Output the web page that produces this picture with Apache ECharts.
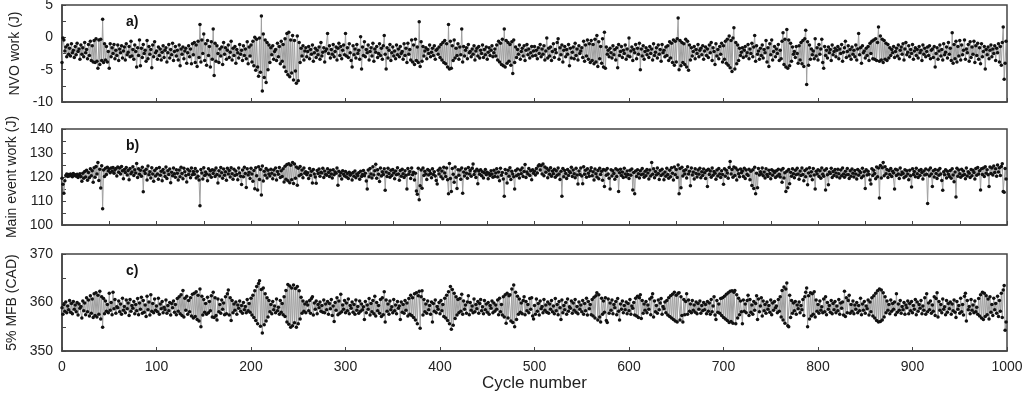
<!DOCTYPE html>
<html><head><meta charset="utf-8">
<script src="https://cdn.jsdelivr.net/npm/echarts@6/dist/echarts.min.js"></script>
<style>html,body{margin:0;padding:0;background:#fff}#c{width:1024px;height:399px}</style>
</head><body><div id="c"></div><script>
// Panel a: NVO work (J), cycles 0..999
const nvoWork = [
-3.9,-0.1,-0.4,-2.1,-1.5,-3.0,-1.2,-2.6,-1.7,-2.9,-1.0,-2.4,-2.0,-3.1,-1.4,-2.7,-0.9,-2.2,-1.8,-3.4,
-1.2,-2.6,-1.6,-3.0,-0.8,-2.4,-1.9,-3.3,-1.1,-2.8,-0.6,-3.6,-1.3,-3.8,-0.5,-3.9,-0.2,-3.7,-4.8,-0.4,
-4.2,-0.3,-3.6,2.8,-3.9,-1.0,-3.5,-1.4,-3.8,-2.2,-4.8,-1.0,-3.0,-1.6,-2.5,-1.1,-3.3,-2.0,-2.8,-1.2,
-3.6,-1.8,-2.4,-1.3,-3.2,-2.1,-1.5,-3.5,-1.0,-2.7,-2.3,-1.4,-3.0,-0.6,-2.9,-1.9,-3.4,-1.2,-2.2,-4.6,
-1.6,-2.8,-0.4,-4.4,-1.7,-3.1,-1.1,-2.5,-2.0,-3.7,-0.5,-3.3,-1.4,-2.6,-1.9,-4.7,-1.2,-3.0,-0.7,-2.4,
-2.1,-3.4,-1.5,-2.8,-1.8,-3.5,-2.3,-1.3,-3.1,-2.0,-1.6,-3.8,-2.4,-1.1,-3.2,-1.9,-2.7,-0.9,-3.6,-2.2,
-1.4,-2.9,-2.0,-3.5,-1.2,-4.4,-1.8,-2.6,-1.5,-3.3,-2.1,-1.7,-4.0,-2.4,-1.3,-3.0,-1.8,-4.1,-1.0,-2.7,
-0.8,-3.9,-1.2,-4.5,-0.6,-3.1,2.0,-3.8,-0.4,-2.5,0.5,-3.6,-1.0,-4.3,-0.5,-2.8,-1.4,-4.6,-0.7,-3.4,
1.3,-5.9,-0.9,-3.7,-1.3,-2.5,-3.9,-1.8,-2.9,-1.5,-4.2,-0.8,-2.6,-1.6,-3.4,-2.0,-1.2,-3.1,-2.3,-0.6,
-3.5,-1.7,-2.8,-1.4,-4.0,-1.9,-2.4,-3.2,-1.1,-2.6,-2.0,-3.6,-1.3,-2.8,-1.8,-3.3,-0.7,-4.1,-1.5,-2.9,
-1.2,-3.8,-0.6,-4.4,0.0,-5.1,-0.3,-4.6,-6.0,-0.1,-5.4,3.3,-8.3,0.5,-6.2,-0.4,-7.0,-0.8,-5.0,-1.2,
-3.9,-1.6,-2.7,-1.3,-3.4,-2.2,-1.9,-3.6,-0.9,-3.0,-1.4,-4.1,-0.6,-3.7,-1.1,-4.6,-0.2,-5.3,0.6,-5.8,
0.8,-6.1,-0.4,-5.5,0.3,-6.6,-0.5,-5.2,-7.1,0.2,-6.7,-0.8,-3.9,-1.7,-2.9,-1.3,-3.5,-2.1,-1.6,-3.0,
-2.2,-1.4,-3.3,-1.9,-2.6,-1.2,-3.7,-2.4,-1.7,-3.1,-2.0,-2.7,-1.5,-3.4,-0.8,-2.9,-2.3,-1.6,-3.8,-2.1,
-1.8,0.6,-2.5,-1.3,-3.2,-1.9,-2.6,-1.1,-3.0,-2.2,-1.5,-3.5,-1.7,-0.9,-2.8,-1.4,-3.3,-2.0,-1.2,-2.7,
0.6,-2.9,-1.6,-3.1,-1.0,-2.4,-3.6,-4.6,-1.3,-2.7,-1.8,-3.2,-1.1,-2.5,-2.0,-3.4,0.1,-4.9,-1.5,-2.8,
-0.7,-3.0,-1.9,-2.4,-1.2,-3.5,-2.2,-1.6,-2.9,-0.9,-3.7,-1.8,-2.3,-1.4,-3.1,-2.5,-1.0,-2.8,-1.7,-3.4,
-1.3,0.3,-2.6,-4.9,-1.6,-3.2,-2.0,-1.1,-3.6,-2.4,-1.5,-2.9,-2.1,-3.3,-1.2,-2.7,-1.8,-3.0,-1.4,-2.5,
-2.2,-3.4,-1.0,-2.8,-1.7,-3.9,-0.9,-2.6,-1.9,-3.5,-0.4,-3.8,-1.2,-4.2,-0.3,-3.6,-1.5,-3.9,2.4,-4.5,
-0.7,-3.7,-1.4,-2.9,-2.1,-1.6,-3.3,-1.9,-2.5,-1.2,-3.0,-2.3,-1.7,-2.8,-1.3,-3.4,-2.0,-1.8,-2.6,-1.5,
-3.1,-1.1,-3.5,-0.8,-3.9,-0.5,-4.1,-1.0,-4.6,2.0,-4.9,-0.6,-4.8,-1.3,-3.6,-0.4,-3.2,-1.7,-2.8,-1.0,
-3.4,-1.5,-2.7,1.3,-3.8,-1.4,-2.9,-2.0,-1.6,-3.3,-1.1,-2.4,-2.2,-3.0,-1.8,-2.6,-1.3,-3.5,-2.1,-1.7,
-2.9,-1.4,-3.2,-2.0,-2.5,-1.2,-3.1,-1.9,-2.7,-1.5,-3.4,-2.3,-1.6,-2.8,-2.0,-1.3,-3.0,-2.4,-1.8,-2.9,
-1.2,-3.5,-0.6,-3.8,-0.9,-4.2,-0.3,-4.4,1.3,-4.6,-0.5,-4.0,-0.8,-3.7,-1.1,-4.3,-0.7,-5.6,-0.4,-3.9,
-1.5,-3.1,-1.9,-2.6,-1.2,-3.4,-2.2,-1.7,-2.9,-1.3,-3.6,-2.0,-1.1,-2.7,-1.8,-3.2,-2.4,-1.4,-2.9,-2.1,
-1.4,-2.8,-2.0,-3.3,-1.6,-2.5,-1.1,-3.0,-1.8,-2.6,-1.3,-3.5,-2.1,-0.1,-3.2,-1.7,-2.9,-1.5,-3.6,-2.2,
-1.0,-3.1,-1.9,-2.4,-0.8,-0.2,-3.4,-1.6,-2.7,-1.2,-3.8,-2.0,-1.4,-3.0,-1.9,-2.6,-1.1,-4.4,-1.7,-3.2,
-2.3,-1.5,-3.3,-0.9,-2.8,-1.8,-3.5,-1.3,-2.5,-2.1,-1.6,-3.1,-0.6,-3.7,-1.2,-2.9,-0.4,-3.4,-1.0,-3.9,
-0.5,-3.6,-1.1,-4.1,-0.3,-3.8,0.3,-4.5,-0.7,-3.3,-1.4,-4.0,-0.2,-4.6,0.8,-4.8,-1.5,-2.6,-2.0,-3.0,
-1.7,-2.4,-3.2,-1.3,-2.7,-1.9,-3.5,-1.6,-4.7,-1.1,-2.8,-2.2,-1.4,-3.1,-2.0,-2.5,-1.2,-3.4,-1.8,-2.9,
-0.1,-3.0,-2.1,-1.5,-3.6,-1.9,-2.4,-1.1,-3.3,-1.7,-2.6,-0.9,-5.0,-1.8,-2.9,-1.3,-3.4,-2.2,-1.6,-2.7,
-2.0,-3.1,-1.4,-2.5,-1.8,-3.5,-1.0,-2.8,-2.3,-1.6,-3.2,-1.2,-2.6,-1.9,-3.7,-1.1,-2.4,-2.0,-3.0,-1.5,
-2.8,-1.3,-3.6,-0.7,-3.2,-0.9,-3.9,-0.4,-4.3,-0.6,-3.8,-0.2,3.0,-5.0,-0.5,-4.4,-0.8,-3.9,-1.0,-4.2,
-0.3,-4.6,-0.6,-5.1,-1.2,-3.5,-1.6,-2.9,-2.2,-1.4,-3.3,-1.9,-2.5,-1.1,-3.0,-2.0,-1.7,-2.7,-1.3,-3.4,
-2.1,-1.5,-2.8,-1.8,-3.1,-1.2,-2.4,-0.8,-3.6,-1.6,-2.2,-4.2,-1.0,-2.9,-1.9,-3.3,-1.4,-2.6,-0.9,-3.8,
-1.3,-3.4,-0.6,-4.0,-0.3,-4.3,0.2,-4.7,-0.5,-5.3,-0.1,1.5,-4.9,-0.8,-4.1,-1.2,-3.6,-1.7,-2.8,-2.3,
-1.6,-3.1,-2.0,-1.4,-2.9,-2.4,-1.1,-3.3,-1.8,-2.5,-0.9,-3.0,-1.5,0.3,-3.7,-1.3,-2.6,-2.1,-3.4,-1.7,
-2.8,-1.2,-3.2,-1.9,-2.4,-0.5,-3.8,-1.6,-4.5,-1.0,-2.7,-0.4,-3.5,-2.2,-1.4,-3.0,-1.8,-2.5,-1.1,-3.6,
-2.0,-3.3,-0.6,0.7,-4.2,-0.3,-4.6,1.2,-4.8,-0.4,-4.4,-0.9,-3.7,-1.5,-2.6,-2.2,-3.1,-1.4,-2.5,-4.0,
-1.3,-3.5,-0.8,-4.1,-0.5,-4.5,-0.2,1.1,-7.3,-0.7,-4.3,-1.2,-3.4,-1.8,-2.7,-2.1,-3.3,-0.2,-2.9,-1.6,
-3.5,-1.1,-2.6,-1.8,-0.3,-3.9,-4.8,-1.4,-2.8,-2.0,-3.2,-1.5,-2.4,-1.9,-3.6,-1.2,-2.7,-2.2,-1.7,-3.0,
-2.0,-1.4,-3.3,-1.8,-2.5,-1.1,-3.7,-2.3,-1.6,-0.6,-3.1,-2.2,-1.3,-2.9,-1.9,-3.4,-1.5,-2.6,-2.0,-3.0,
-1.2,-3.5,-1.8,0.6,-2.7,-1.6,-4.0,-1.3,-2.4,-2.1,-3.2,-1.7,-2.8,-1.4,-3.6,-0.9,-2.5,-0.6,-3.3,-0.4,
-3.4,-0.2,-3.6,-0.8,1.6,-3.7,0.2,-3.5,-0.3,-3.9,-0.5,-3.4,-0.9,-3.6,-1.1,-3.2,-1.6,-2.8,-1.9,-2.4,
-1.4,-3.1,-2.2,-1.7,-2.9,-1.2,-3.3,-2.0,-1.5,-2.6,-1.0,-3.5,-1.8,-0.8,-2.7,-2.3,-1.3,-3.0,-1.9,-2.5,
-1.1,-3.4,-2.1,-1.6,-2.8,-1.9,-3.2,-1.4,-2.4,-2.0,-3.6,-1.2,-2.6,-1.7,-3.0,-2.2,-1.5,-2.8,-1.3,-3.3,
-2.0,-1.8,-3.1,-1.4,-4.6,-2.5,-1.6,-3.4,-2.1,-1.2,-2.9,-1.9,-3.5,-1.0,-2.7,-2.3,-1.5,-3.2,-0.8,-2.6,
-1.7,-3.6,0.7,-4.0,-1.1,-3.3,-0.6,-3.8,-1.4,-2.9,-0.5,-3.5,-1.2,-2.7,-2.0,-0.4,-3.4,-1.8,-2.4,-1.1,
-3.7,-0.7,-3.1,-1.5,-2.6,-0.6,-3.9,-1.3,-2.8,-0.9,-3.4,-1.6,-4.1,-1.0,-3.0,-2.2,-1.4,-4.9,-1.9,-2.7,
-1.5,-3.3,-2.0,-1.2,-3.0,-1.8,-2.5,-1.3,-3.6,-1.7,-2.4,-1.0,-3.8,-1.4,-4.3,-0.8,1.6,-6.5,-4.0,-0.6
];
// Panel b: main event work (J)
const mainWork = [
119.5,117.0,113.2,118.4,120.6,121.3,120.2,121.0,120.4,121.2,120.8,120.1,121.5,120.6,120.9,120.3,121.1,119.8,120.7,121.4,
120.2,118.2,121.6,119.5,122.3,120.0,122.8,118.6,121.9,119.7,123.4,120.5,122.6,117.8,123.9,119.9,124.4,121.3,126.0,118.5,
123.2,115.4,124.7,106.8,122.9,120.2,123.6,121.0,124.1,122.5,123.3,121.8,123.8,122.4,124.0,121.6,122.9,123.5,120.4,124.2,
122.0,123.7,121.2,124.4,122.6,119.3,123.1,121.9,124.0,120.8,122.7,118.9,123.5,121.4,122.1,124.3,120.6,123.0,121.7,125.6,
119.8,123.4,121.1,122.8,120.3,124.1,113.9,122.5,121.5,123.2,118.7,124.6,120.9,122.2,119.6,123.9,121.3,118.2,122.7,120.4,
123.5,121.2,119.1,124.0,120.7,122.4,118.4,123.1,121.8,120.2,124.2,119.4,122.6,121.0,123.3,117.6,122.0,120.5,123.7,121.4,
119.9,123.0,121.6,118.8,122.9,120.1,124.1,121.5,119.3,123.6,122.2,120.6,117.9,123.2,121.0,122.5,119.7,123.8,120.9,122.3,
121.1,123.5,119.6,122.4,120.3,118.7,108.0,123.1,121.7,119.2,123.9,120.6,122.1,121.3,118.4,123.4,120.8,122.6,119.9,123.0,
121.5,122.8,120.2,123.7,121.0,117.5,122.6,120.4,124.0,121.8,119.5,123.3,120.7,122.2,118.6,123.6,121.2,122.7,120.0,123.9,
121.4,119.1,123.2,120.6,122.5,121.0,118.9,123.8,121.7,120.3,116.9,122.9,120.1,124.1,121.5,115.6,123.4,120.8,122.0,119.4,
123.6,121.3,118.2,122.7,115.1,123.9,120.5,114.6,124.3,119.0,123.1,112.5,124.6,118.3,122.4,120.7,123.5,119.6,122.8,121.2,
120.4,123.2,121.6,119.3,122.9,120.8,123.7,118.7,122.3,121.1,124.0,119.8,122.6,120.2,123.4,117.9,124.5,119.1,125.2,118.4,
125.5,117.6,124.9,118.9,126.0,117.3,125.4,119.5,124.2,116.6,123.6,120.5,124.4,121.0,122.9,119.7,123.8,121.6,122.2,120.9,
121.8,119.4,123.5,120.6,122.4,117.5,123.1,121.2,120.0,117.4,122.7,121.5,123.3,120.3,122.0,121.7,123.6,119.8,122.5,121.0,
120.7,123.4,121.9,120.2,122.8,121.3,119.6,123.0,120.9,122.1,121.6,123.7,116.6,122.4,120.5,121.8,119.2,122.6,121.1,120.4,
122.3,120.0,121.5,119.4,122.0,120.7,121.4,118.8,121.9,120.3,122.5,119.7,121.2,120.6,121.8,119.1,122.4,120.2,121.0,122.7,
120.5,121.6,118.3,115.0,122.9,120.1,123.5,121.3,119.6,124.3,120.8,122.6,125.3,119.5,123.0,121.1,118.1,123.8,120.4,122.2,
121.0,123.4,114.5,122.1,120.2,123.6,121.5,119.9,122.8,120.6,123.1,121.7,119.3,122.5,120.9,123.9,121.2,118.6,122.7,120.3,
123.2,121.4,119.8,122.6,120.7,115.0,123.5,121.1,122.3,119.4,123.8,120.9,122.0,118.7,121.6,114.2,112.8,123.6,110.5,116.4,
122.9,115.3,123.7,120.6,122.4,121.2,119.0,123.1,120.8,122.6,121.5,119.7,123.4,121.0,122.2,120.4,118.5,117.1,122.8,121.3,
123.6,120.1,122.5,119.3,124.1,121.7,120.2,123.8,118.9,113.0,125.6,119.4,114.0,123.5,121.1,117.8,124.2,119.9,115.2,123.0,
120.7,122.9,119.1,123.7,113.2,122.1,120.4,123.3,121.6,119.5,124.0,121.2,122.7,120.3,123.6,125.4,121.0,122.4,119.8,123.2,
117.2,122.5,121.1,123.0,120.5,122.2,119.6,121.8,123.1,120.9,122.0,119.3,121.5,120.6,122.6,121.3,119.9,122.8,120.2,121.7,
123.4,120.0,122.1,118.4,123.6,120.7,121.9,119.2,112.0,123.1,121.5,117.5,122.8,120.3,123.9,119.0,122.4,121.2,120.1,115.0,
122.7,120.5,123.3,121.0,119.6,122.9,121.4,123.7,120.2,122.3,125.2,119.8,122.1,121.3,123.5,120.6,122.6,118.9,123.0,121.6,
122.4,120.8,123.5,121.7,124.6,125.1,122.9,124.8,121.3,125.4,120.5,124.2,122.0,123.6,119.7,122.8,121.1,123.9,120.3,122.5,
121.4,123.2,119.9,122.6,120.7,123.8,121.2,119.0,122.4,112.0,123.5,120.1,122.7,121.5,119.4,123.1,120.6,122.3,121.8,124.1,
120.2,122.9,121.4,119.7,123.6,120.8,117.1,122.5,121.0,123.7,120.4,117.2,124.3,121.1,122.8,119.9,123.4,121.6,120.3,122.6,
123.9,120.5,122.2,118.8,123.3,121.4,120.0,122.7,119.3,123.6,121.0,122.4,118.6,123.1,116.0,122.8,120.7,123.5,121.2,119.5,
115.0,123.0,120.4,122.6,121.5,119.1,123.4,120.2,122.9,114.0,121.8,123.2,120.6,122.1,119.8,123.6,121.3,120.1,122.5,121.0,
119.4,122.8,120.7,123.3,114.6,121.9,113.0,122.5,120.2,123.0,121.4,119.6,122.6,120.9,123.5,121.2,119.9,122.4,120.5,123.1,
121.7,119.2,122.9,120.4,126.0,121.1,123.4,119.7,122.3,120.8,123.8,121.5,119.0,122.7,120.6,123.2,121.3,118.9,122.1,120.3,
123.6,121.0,119.5,122.8,120.1,123.9,121.6,118.7,124.2,120.9,123.1,119.8,125.0,113.0,123.5,115.5,124.1,120.4,122.6,121.3,
123.0,119.6,124.3,121.2,122.4,116.4,123.7,120.8,122.1,119.2,123.4,121.5,120.0,122.9,121.1,123.6,119.7,122.2,120.6,123.3,
121.8,119.4,122.7,116.0,123.2,121.0,122.5,119.9,123.8,120.7,122.3,121.6,119.1,122.9,120.4,123.5,121.2,119.8,122.6,121.0,
117.0,123.4,120.3,122.8,121.7,119.5,124.0,126.5,121.3,123.1,119.9,124.2,120.6,123.7,118.7,122.9,121.4,120.1,123.3,121.8,
122.5,120.2,123.6,119.4,122.9,121.1,120.6,123.2,118.9,122.4,116.5,123.0,115.2,124.1,113.0,121.6,115.5,123.5,120.8,122.2,
121.3,123.7,120.5,122.1,119.6,123.4,121.0,120.2,122.8,121.5,119.3,123.0,120.7,122.5,121.9,119.8,122.6,120.4,123.2,121.1,
120.0,122.9,117.8,123.5,119.6,121.8,114.0,122.4,115.5,123.1,117.2,122.0,120.3,123.4,121.4,119.7,122.8,120.9,123.6,121.2,
119.1,122.5,120.6,123.8,121.0,118.4,122.7,120.1,123.3,116.8,121.7,123.9,120.4,122.2,118.9,123.5,120.8,115.0,122.4,121.3,
123.0,120.2,122.6,119.5,123.7,121.1,120.3,122.8,114.6,123.4,120.9,116.8,122.1,121.5,123.6,119.8,122.3,120.6,123.1,121.7,
120.1,123.2,121.4,119.6,122.9,120.5,123.8,121.2,119.9,122.4,120.8,123.5,121.0,119.4,122.6,120.3,123.3,121.6,120.0,122.7,
121.3,119.2,123.1,120.7,122.5,121.9,119.7,123.6,120.4,122.2,115.2,123.0,120.8,122.4,121.1,118.7,117.1,123.4,120.6,122.8,
121.5,119.3,124.2,120.1,123.7,111.3,124.8,119.6,123.9,126.0,120.5,124.3,121.4,123.1,119.8,122.7,121.0,123.5,120.2,122.4,
121.7,115.0,123.2,120.6,122.9,121.3,119.4,123.8,120.9,122.1,121.5,119.7,123.0,120.3,122.6,121.2,118.9,122.8,120.5,115.8,
123.4,121.0,122.3,120.1,123.6,121.4,119.8,122.7,120.6,123.1,121.9,119.2,122.5,120.8,123.3,121.1,109.0,122.9,120.4,123.7,
121.2,116.0,122.6,120.0,123.1,121.5,119.4,122.8,120.7,123.5,121.3,118.5,114.5,122.2,120.9,123.0,119.6,122.4,121.1,120.2,
122.7,119.5,123.4,120.8,118.0,122.1,111.7,123.6,120.3,122.9,121.4,119.9,123.2,120.6,122.5,121.0,119.3,123.7,120.4,122.2,
121.6,119.8,123.1,120.5,122.8,121.9,119.2,123.5,120.7,124.0,121.3,122.6,114.6,123.4,121.0,123.8,120.2,124.3,121.6,123.0,
120.9,116.0,124.2,121.5,123.7,120.8,124.6,121.9,123.4,120.3,125.0,122.1,123.9,120.6,124.4,125.5,114.0,113.6,123.5,119.2
];
// Panel c: 5% mass fraction burned (CAD)
const mfb5 = [
358.9,357.6,359.6,358.2,360.1,357.9,359.3,358.5,360.4,358.0,359.8,357.7,360.2,358.6,359.5,358.1,360.0,357.4,359.7,358.8,
359.2,356.8,360.3,358.3,359.9,357.5,361.0,358.1,360.5,357.2,361.4,357.8,360.7,356.9,361.8,357.3,362.0,357.0,361.5,357.6,
362.3,356.6,361.2,354.9,360.8,357.7,360.3,358.2,359.6,357.9,361.9,358.4,360.0,357.5,362.1,358.7,360.6,357.8,359.1,358.9,
360.3,358.1,359.7,357.6,360.9,358.4,359.2,357.9,360.5,358.7,359.9,357.3,360.6,358.2,359.4,358.8,360.2,357.7,359.6,358.3,
360.8,357.5,359.9,358.6,361.1,357.8,360.4,358.0,359.5,357.1,361.3,358.5,360.1,357.4,361.6,358.2,359.8,357.9,360.7,358.4,
359.3,358.1,360.9,357.6,359.7,358.7,360.2,357.9,359.0,358.5,360.5,357.8,359.4,358.3,360.0,357.4,359.8,358.9,360.3,358.0,
359.6,357.5,360.8,358.2,361.2,357.7,361.6,357.3,362.5,357.0,360.9,358.4,361.3,357.6,360.4,358.1,361.0,357.2,361.7,356.8,
361.9,357.1,362.2,356.5,361.5,356.2,362.8,355.0,361.3,357.4,360.6,358.0,359.8,357.6,361.1,357.9,360.2,358.3,361.4,357.0,
362.1,356.9,361.0,357.3,356.4,360.7,358.1,359.6,357.8,360.5,358.6,359.9,357.5,361.2,357.7,361.8,362.6,357.4,361.0,356.3,
360.4,357.9,359.7,358.4,360.1,357.6,359.5,358.8,360.3,358.2,359.4,357.8,360.0,358.5,359.2,357.9,360.6,358.3,359.8,358.0,
360.9,357.4,361.5,356.9,362.4,356.3,363.3,355.6,363.9,364.5,355.1,362.7,353.7,363.0,355.4,361.8,356.2,361.0,357.0,360.4,
358.1,359.6,357.7,360.2,358.5,359.3,357.9,360.7,358.3,359.0,357.6,360.4,358.0,359.8,357.5,361.2,357.1,362.5,356.0,363.7,
355.5,363.4,354.9,363.0,355.2,363.6,355.8,362.9,354.9,363.3,355.6,362.4,356.6,361.1,357.8,360.3,358.2,359.7,357.9,360.1,
359.5,358.3,360.4,357.8,360.8,361.2,357.4,359.9,358.6,360.3,357.7,359.6,358.9,360.1,358.2,359.4,358.0,360.5,357.9,359.7,
358.5,360.2,357.6,359.8,358.7,360.6,357.3,359.3,356.1,360.0,358.4,361.0,357.5,360.3,357.8,361.7,358.1,359.5,358.6,360.4,
357.9,359.9,358.3,360.7,357.7,359.4,358.8,360.1,358.0,359.6,357.6,360.5,358.4,359.2,357.8,360.3,358.2,359.7,358.5,359.1,
356.5,360.2,357.9,359.5,358.6,360.8,357.4,359.8,358.1,360.4,357.7,361.3,357.2,360.0,358.3,359.4,357.8,360.6,357.1,361.0,
357.5,362.2,356.0,360.5,358.2,359.7,357.6,360.3,358.5,359.1,357.9,360.6,358.3,359.5,357.7,360.2,358.8,359.3,356.5,360.1,
358.0,359.6,357.8,360.4,358.4,359.9,357.2,360.8,357.6,361.5,357.3,361.0,356.9,361.8,356.4,362.0,355.6,361.4,362.3,354.7,
361.2,362.4,357.4,360.6,358.1,359.7,357.8,360.3,358.5,359.4,357.6,360.1,356.0,359.8,358.2,360.5,357.9,359.2,358.6,360.0,
357.7,360.4,358.3,359.6,357.1,360.9,356.8,361.5,356.3,362.2,355.6,363.3,354.5,362.7,355.3,361.9,356.7,361.2,357.4,360.6,
357.9,360.8,358.2,361.7,357.6,360.3,358.6,359.5,357.8,360.1,361.4,357.5,360.0,358.4,359.3,357.9,360.7,358.1,359.6,358.7,
360.2,357.8,359.8,360.6,358.3,359.1,357.7,360.4,358.5,359.7,358.0,360.0,357.6,359.4,358.8,360.3,357.9,359.9,358.2,359.5,
358.6,360.5,357.5,360.9,358.1,359.6,357.4,361.2,357.0,361.6,355.7,361.9,356.8,361.4,361.6,356.2,362.8,355.9,363.6,355.0,
362.1,356.5,361.3,357.6,360.7,358.0,359.9,357.7,360.4,361.2,357.5,360.2,358.3,359.6,357.9,360.8,358.6,361.0,357.2,356.6,
359.4,357.6,360.7,358.2,359.8,357.4,360.3,358.7,359.2,357.9,360.6,358.4,359.5,358.0,360.1,357.8,359.7,358.6,360.4,358.1,
359.3,357.7,360.8,358.3,359.6,357.5,360.2,358.9,356.5,360.5,357.9,359.4,358.5,360.0,357.6,360.7,358.2,359.1,358.8,360.3,
357.8,359.9,358.4,360.6,358.0,359.2,357.7,360.1,358.6,359.5,358.1,360.4,357.6,359.8,358.3,360.9,357.4,360.2,358.7,359.6,
357.5,360.6,357.2,361.1,356.8,361.4,362.0,356.4,361.6,357.0,356.0,360.9,357.6,360.3,358.0,361.0,356.3,355.9,360.7,357.8,
359.9,358.4,360.5,357.7,359.6,358.9,360.2,357.5,360.8,358.2,356.4,359.7,358.6,360.3,357.9,359.4,358.5,360.1,357.7,359.8,
358.3,360.6,357.6,359.3,358.8,360.0,357.4,360.9,357.2,361.3,356.9,361.0,361.6,356.7,360.4,357.8,359.7,358.4,360.2,357.9,
359.5,358.6,360.7,357.5,361.1,361.8,357.0,360.3,358.1,359.4,357.8,360.5,358.5,359.9,360.8,357.6,359.2,358.7,360.1,357.9,
360.4,357.4,361.0,357.1,361.4,356.8,361.7,356.5,362.1,356.2,361.5,356.0,361.9,362.0,356.4,361.2,357.3,356.0,360.6,357.5,
360.2,361.8,357.6,360.5,358.2,359.7,357.9,360.4,358.4,359.5,358.0,360.1,357.7,359.8,358.6,360.3,357.8,359.4,358.3,360.0,
358.5,359.6,357.7,360.2,358.2,359.9,357.6,360.6,358.1,359.3,361.2,357.4,356.5,360.4,358.0,359.7,357.8,360.8,357.3,361.0,
356.9,361.3,356.6,361.7,356.3,362.0,355.9,362.3,356.1,362.4,355.7,362.1,362.5,355.6,361.6,356.8,360.9,357.5,360.3,358.1,
355.6,360.5,358.2,359.7,357.9,360.4,361.5,357.3,360.6,358.0,359.5,357.6,360.2,358.4,359.8,361.4,356.5,360.7,358.1,359.3,
361.0,357.2,360.3,358.3,359.6,357.8,360.1,358.6,359.4,358.0,360.5,357.5,359.9,358.4,360.2,358.9,359.3,357.9,360.6,358.2,
361.2,357.0,362.5,356.4,363.2,355.7,362.8,364.0,355.2,355.0,361.5,356.9,360.4,357.8,359.9,358.3,360.2,357.6,359.5,358.7,
360.1,357.9,359.4,358.5,360.6,357.3,361.2,362.1,363.0,355.0,361.4,356.6,362.0,357.2,361.8,357.6,362.2,357.0,360.5,358.2,
359.6,357.8,360.3,358.4,359.1,357.9,360.7,358.1,361.2,357.5,360.0,358.6,359.4,358.0,360.4,357.7,359.8,358.5,360.2,357.9,
359.3,358.3,360.6,357.6,359.9,358.8,360.1,357.4,362.3,357.1,361.0,357.9,360.4,361.5,357.8,359.6,358.2,360.3,357.7,359.5,
358.6,360.0,357.9,359.4,358.3,360.9,357.5,359.7,358.4,360.2,357.8,359.3,358.7,360.5,357.4,360.1,358.1,361.0,357.2,361.4,
356.8,361.9,356.3,362.4,356.0,362.8,356.1,362.6,356.4,362.0,357.0,361.2,357.9,360.3,358.4,359.6,357.7,360.5,358.2,359.8,
358.6,360.1,357.5,361.8,358.0,359.7,358.4,360.4,357.8,359.2,358.5,360.0,357.6,359.5,358.9,360.3,357.7,359.8,358.3,360.2,
357.9,359.4,358.6,360.6,357.5,360.1,358.2,359.6,358.8,360.4,357.7,359.3,358.4,361.0,357.6,361.8,358.1,359.9,358.5,360.3,
357.8,359.5,358.2,361.2,357.3,360.8,362.0,357.0,360.2,358.4,359.6,357.9,360.7,358.6,359.1,357.5,360.4,358.0,359.8,358.7,
360.1,357.6,359.7,358.3,360.5,358.0,356.9,360.2,358.6,359.4,357.8,360.9,358.1,359.6,357.4,361.3,361.9,356.2,360.4,358.5,
359.2,357.7,360.6,358.4,359.5,357.9,360.3,358.1,359.0,357.6,360.8,357.2,361.6,356.8,362.1,356.5,361.9,357.1,361.4,357.5,
360.7,356.6,361.2,358.0,359.6,357.3,360.9,358.5,359.8,357.8,361.3,357.1,360.4,358.2,361.9,356.9,362.6,363.5,354.3,356.0
];

const panelLabels = ['a)', 'b)', 'c)'];
const yNames = ['NVO work (J)', 'Main event work (J)', '5% MFB (CAD)'];
const yMin = [-10, 100, 350];
const yMax = [5, 140, 370];
const yStep = [5, 10, 10];
const xMin = 0, xMax = 1000, xStep = 100;
const xName = 'Cycle number';

const FONT = 'Liberation Sans, Arial, sans-serif';
const AX = '#444';
const gridTops = [5, 129, 254];
const gridHeights = [97, 96, 97];
const seriesData = [nvoWork, mainWork, mfb5];

const grids = [], xAxes = [], yAxes = [], series = [], graphics = [];
for (let k = 0; k < 3; k++) {
  grids.push({left: 62, right: 17, top: gridTops[k], height: gridHeights[k],
    containLabel: false, outerBoundsMode: 'none',
    show: true, borderColor: AX, borderWidth: 1.5, backgroundColor: 'transparent'});
  xAxes.push({type: 'value', gridIndex: k, min: xMin, max: xMax, interval: xStep,
    axisLine: {show: true, onZero: false, lineStyle: {color: AX, width: 1.5}},
    axisTick: {show: true, inside: true, length: 4, lineStyle: {color: AX, width: 1}},
    minorTick: {show: k === 1, splitNumber: 2, length: 4, lineStyle: {color: AX, width: 1}},
    splitLine: {show: false},
    axisLabel: {show: k === 2, fontFamily: FONT, fontSize: 14, color: '#222', margin: 9,
      formatter: v => String(v)},
    name: k === 2 ? xName : '', nameLocation: 'middle', nameGap: 23,
    nameTextStyle: {fontFamily: FONT, fontSize: 17, color: '#222'}});
  yAxes.push({type: 'value', gridIndex: k, min: yMin[k], max: yMax[k], interval: yStep[k],
    axisLine: {show: true, lineStyle: {color: AX, width: 1.5}},
    axisTick: {show: true, inside: true, length: 4, lineStyle: {color: AX, width: 1}},
    minorTick: {show: true, splitNumber: 2, length: 4, lineStyle: {color: AX, width: 1}},
    splitLine: {show: false},
    axisLabel: {fontFamily: FONT, fontSize: 14, color: '#222', margin: 9, formatter: v => String(v)},
    name: yNames[k], nameLocation: 'middle', nameRotate: 90, nameGap: 40,
    nameTextStyle: {fontFamily: FONT, fontSize: 14, color: '#222'}});
  series.push({type: 'line', xAxisIndex: k, yAxisIndex: k,
    data: seriesData[k].map((v, i) => [i, v]),
    symbol: 'circle', symbolSize: 3.5, showSymbol: true, showAllSymbol: true,
    lineStyle: {color: '#a0a0a0', width: 1}, itemStyle: {color: '#111'},
    silent: true, animation: false});
  graphics.push({type: 'text', left: 126, top: gridTops[k] + 10,
    style: {text: panelLabels[k], font: 'bold 14px ' + FONT, fill: '#111'}});
}

const chart = echarts.init(document.getElementById('c'), null, {renderer: 'canvas'});
chart.setOption({animation: false, grid: grids, xAxis: xAxes, yAxis: yAxes, series: series, graphic: graphics});
</script></body></html>
